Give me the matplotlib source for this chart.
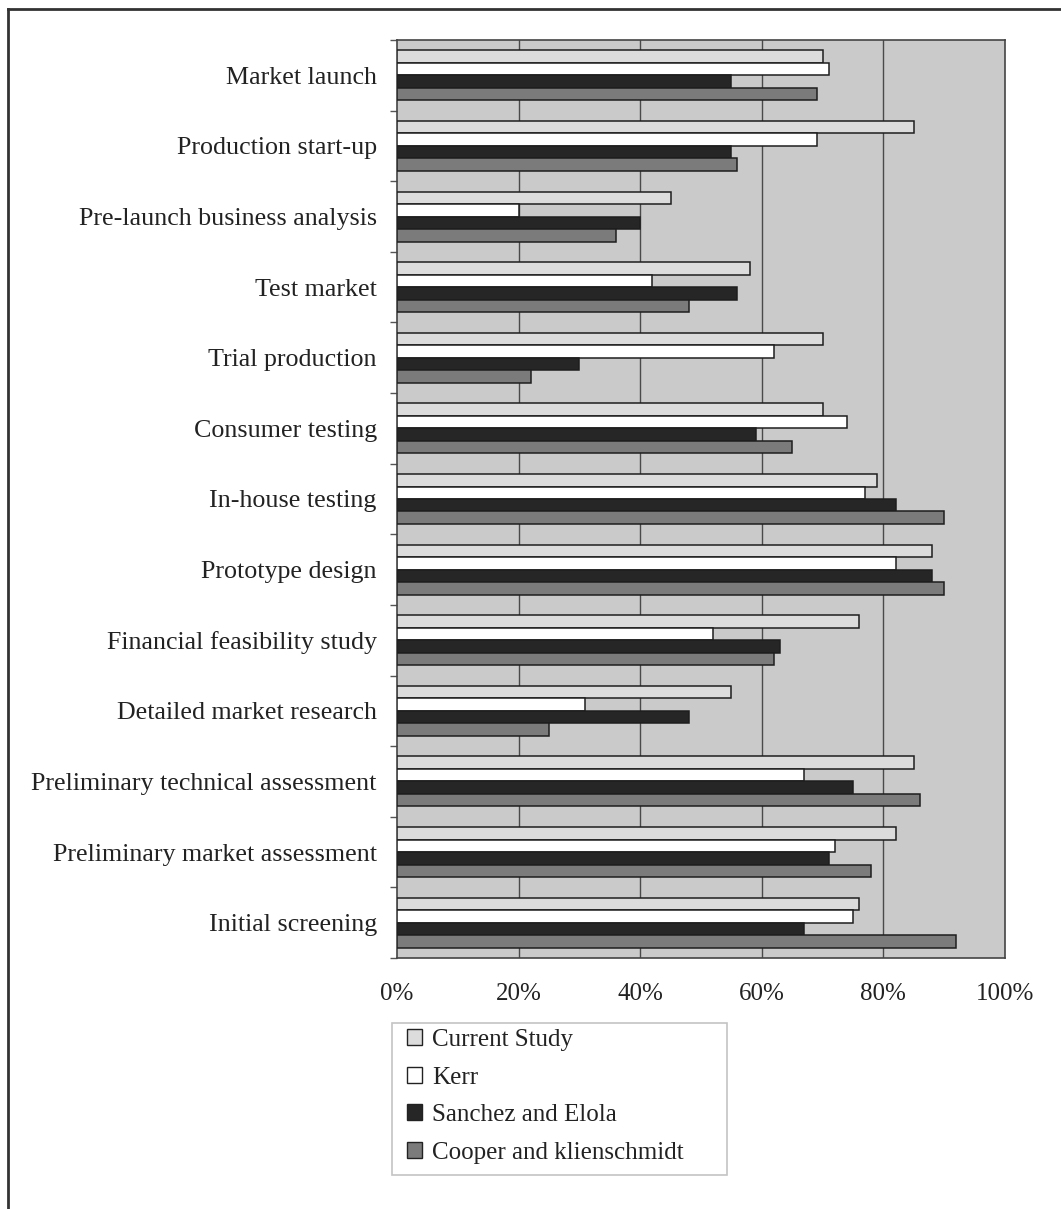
import matplotlib
matplotlib.use("Agg")
import matplotlib.pyplot as plt
import numpy as np
from matplotlib.lines import Line2D
from matplotlib.patches import Rectangle, Patch

# categories from top to bottom as they appear in the chart
stages = [
    "Market launch",
    "Production start-up",
    "Pre-launch business analysis",
    "Test market",
    "Trial production",
    "Consumer testing",
    "In-house testing",
    "Prototype design",
    "Financial feasibility study",
    "Detailed market research",
    "Preliminary technical assessment",
    "Preliminary market assessment",
    "Initial screening",
]

# values in percent, same order as stages
current_study = [70, 85, 45, 58, 70, 70, 79, 88, 76, 55, 85, 82, 76]
kerr = [71, 69, 20, 42, 62, 74, 77, 82, 52, 31, 67, 72, 75]
sanchez_elola = [55, 55, 40, 56, 30, 59, 82, 88, 63, 48, 75, 71, 67]
cooper_klienschmidt = [69, 56, 36, 48, 22, 65, 90, 90, 62, 25, 86, 78, 92]

series_names = ["Current Study", "Kerr", "Sanchez and Elola", "Cooper and klienschmidt"]
series_colors = ["#dcdcdc", "#ffffff", "#262626", "#7b7b7b"]
x_ticks = [0, 20, 40, 60, 80, 100]

W, H = 1061, 1209
DPI = 100
plt.rcParams["font.family"] = ["Liberation Serif", "DejaVu Serif"]
FS = 25 * 72 / DPI      # ~25 px text
FS_CAT = 26 * 72 / DPI  # category labels look a touch wider

fig = plt.figure(figsize=(W / DPI, H / DPI), dpi=DPI)
fig.patch.set_facecolor("white")
ax = fig.add_axes([397 / W, 1 - 958 / H, (1005 - 397) / W, (958 - 40) / H])
ax.set_facecolor("#cacaca")

n = len(stages)
pos = np.arange(n)[::-1]  # Market launch at the top
bw = 0.177
offsets = [1.5 * bw, 0.5 * bw, -0.5 * bw, -1.5 * bw]
all_series = [current_study, kerr, sanchez_elola, cooper_klienschmidt]
for vals, off, col in zip(all_series, offsets, series_colors):
    ax.barh(pos + off, vals, height=bw, color=col, edgecolor="#1e1e1e",
            linewidth=1.1, zorder=3)

ax.set_xlim(0, 100)
ax.set_ylim(-0.5, n - 0.5)
ax.set_xticks(x_ticks)
ax.set_xticklabels([f"{t}%" for t in x_ticks], fontsize=FS, color="#222222")
ax.tick_params(axis="x", length=0, pad=18)
ax.set_yticks(pos)
ax.set_yticklabels(stages, fontsize=FS_CAT, color="#222222")
ax.tick_params(axis="y", which="major", length=0, pad=14.5)
ax.set_yticks(np.arange(n + 1) - 0.5, minor=True)
ax.tick_params(axis="y", which="minor", length=5, width=1, color="#555555",
               direction="out")
for g in x_ticks[1:-1]:
    ax.axvline(g, color="#4a4a4a", lw=1, zorder=1)
for sp in ax.spines.values():
    sp.set_color("#444444")
    sp.set_linewidth(1.2)

# outer frame (only the left and top edges are visible in the scan)
fig.add_artist(Line2D([8 / W, 8 / W], [0, 1 - 9 / H], color="#333333", lw=2))
fig.add_artist(Line2D([8 / W, 1], [1 - 9 / H, 1 - 9 / H], color="#333333", lw=2))

# legend box
fig.add_artist(Rectangle((392 / W, 1 - 1175 / H), (727 - 392) / W, (1175 - 1023) / H,
                         transform=fig.transFigure, facecolor="white",
                         edgecolor="#c4c4c4", lw=1.2))
handles = [Patch(facecolor=c, edgecolor="#222222", lw=1) for c in series_colors]
fig.legend(handles, series_names, loc="upper left",
           bbox_to_anchor=(402 / W, 1 - 1024 / H), frameon=False,
           fontsize=FS, handlelength=0.6, handleheight=0.6,
           handletextpad=0.4, labelspacing=0.62, borderaxespad=0,
           borderpad=0.2, labelcolor="#222222")

fig.savefig("out.png", dpi=DPI)
